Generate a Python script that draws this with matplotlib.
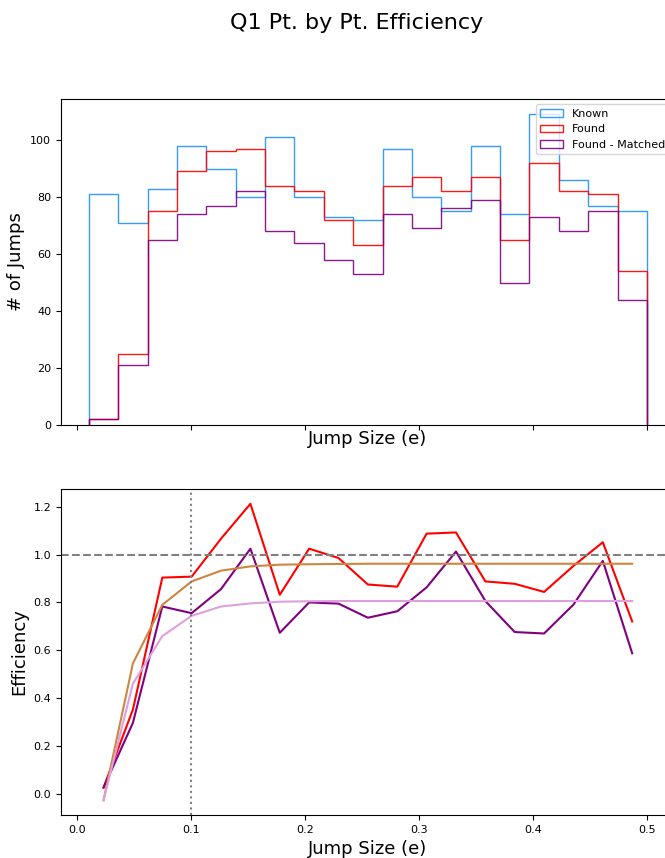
import numpy as np
import matplotlib
matplotlib.use("Agg")
import matplotlib.pyplot as plt

# bins of jump size (e)
bin_edges = np.linspace(0.01, 0.5, 20)
bin_centers = (bin_edges[:-1] + bin_edges[1:]) / 2

# counts per bin
known = [81, 71, 83, 98, 90, 80, 101, 80, 73, 72, 97, 80, 75, 98, 74, 109, 86, 77, 75]
found = [2, 25, 75, 89, 96, 97, 84, 82, 72, 63, 84, 87, 82, 87, 65, 92, 82, 81, 54]
found_matched = [2, 21, 65, 74, 77, 82, 68, 64, 58, 53, 74, 69, 76, 79, 50, 73, 68, 75, 44]

# efficiency per bin
eff_found = [0.025, 0.352, 0.904, 0.908, 1.067, 1.213, 0.832, 1.025, 0.986, 0.875,
             0.866, 1.088, 1.093, 0.888, 0.878, 0.844, 0.953, 1.052, 0.72]
eff_matched = [0.025, 0.296, 0.783, 0.755, 0.856, 1.025, 0.673, 0.8, 0.795, 0.736,
               0.763, 0.863, 1.013, 0.806, 0.676, 0.67, 0.791, 0.974, 0.587]
fit_found = [-0.028, 0.545, 0.79, 0.888, 0.933, 0.951, 0.958, 0.96, 0.961, 0.962,
             0.962, 0.962, 0.962, 0.962, 0.962, 0.962, 0.962, 0.962, 0.962]
fit_matched = [-0.028, 0.46, 0.659, 0.744, 0.783, 0.796, 0.803, 0.805, 0.806, 0.806,
               0.806, 0.806, 0.806, 0.806, 0.806, 0.806, 0.806, 0.806, 0.806]

fig = plt.figure(figsize=(6.65, 8.58), dpi=100)
ax1 = fig.add_axes([0.0917, 0.5047, 0.923, 0.38])
ax2 = fig.add_axes([0.0917, 0.0501, 0.923, 0.38], sharex=ax1)

# -------- histograma --------
ax1.hist(bin_centers, bins=bin_edges, weights=known, histtype='step',
         color='dodgerblue', alpha=0.9, label='Known')
ax1.hist(bin_centers, bins=bin_edges, weights=found, histtype='step',
         color='red', alpha=0.9, label='Found')
ax1.hist(bin_centers, bins=bin_edges, weights=found_matched, histtype='step',
         color='purple', alpha=0.9, label='Found - Matched')
ax1.set_ylabel('# of Jumps', fontsize=13)
ax1.set_xlabel('Jump Size (e)', fontsize=13, labelpad=0)
ax1.tick_params(labelbottom=False, labelsize=8)
ax1.legend(loc='upper right', fontsize=8)

# -------- eficiencia --------
ax2.plot(bin_centers, eff_found, color='red')
ax2.plot(bin_centers, eff_matched, color='purple')
ax2.plot(bin_centers, fit_found, color='peru')
ax2.plot(bin_centers, fit_matched, color='plum')
ax2.axhline(1.0, color='grey', linestyle='--')
ax2.axvline(0.1, color='grey', linestyle=':')
ax2.set_ylabel('Efficiency', fontsize=13)
ax2.set_xlabel('Jump Size (e)', fontsize=13)
ax2.tick_params(labelsize=8)

fig.suptitle('Q1 Pt. by Pt. Efficiency', fontsize=16, x=0.537, y=0.985)
fig.savefig('out.png', dpi=100)
